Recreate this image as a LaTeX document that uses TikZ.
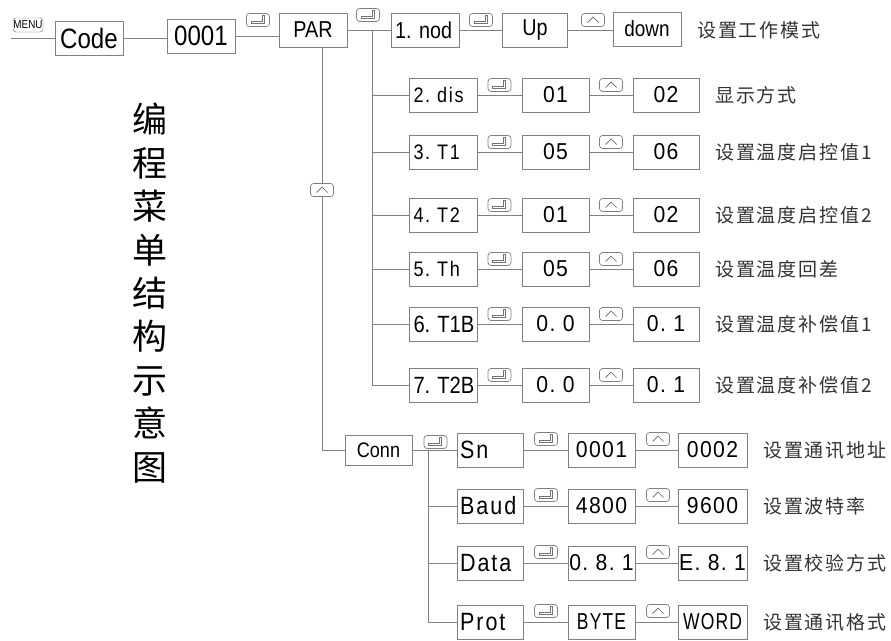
\documentclass[tikz,border=0pt]{standalone}
\usepackage{fontspec}
\setmainfont{Liberation Sans}[FakeStretch=0.86]
\newfontfamily\valfont{Liberation Sans}[FakeStretch=0.92, LetterSpace=6]
\newfontfamily\lblfont{Liberation Sans}[FakeStretch=0.86, LetterSpace=8]
\newfontfamily\narrowfont{Liberation Sans}[FakeStretch=0.76, LetterSpace=5]
\newfontfamily\cjk{Noto Sans CJK SC}
\newfontfamily\cjkdesc{Noto Sans CJK SC}[LetterSpace=10]
\frenchspacing
\tikzset{
  box/.style={draw=black!50, line width=0.9pt, minimum height=34pt, minimum width=68pt, inner sep=0pt},
  big/.style={box, font=\fontsize{28}{32}\selectfont},
  mid/.style={box, font=\fontsize{23}{27}\selectfont},
  lbl/.style={box, text width=60pt, align=left, font=\lblfont\fontsize{21}{25}\selectfont},
  val/.style={box, minimum width=67pt, font=\valfont\fontsize{23}{27}\selectfont},
  wire/.style={draw=black!50, line width=0.8pt},
  desc/.style={anchor=west, inner sep=0pt, text=black!80, font=\cjkdesc\fontsize{19}{22}\selectfont},
  keybtn/.style={draw=black!50, fill=white, line width=0.7pt, rounded corners=3pt, minimum width=23pt, minimum height=13pt, inner sep=0pt},
  enterkey/.style={keybtn, path picture={\draw[black!55, sharp corners, line width=0.5pt]
      ([shift={(-7pt,-3.5pt)}]path picture bounding box.center) -- ++(13pt,0) -- ++(0,8pt)
      -- ++(-2pt,0) -- ++(0,-6pt) -- ++(-11pt,0) -- cycle;}},
  upkey/.style={keybtn, path picture={\draw[black!60, sharp corners, line width=0.7pt]
      ([shift={(-5.5pt,-2.5pt)}]path picture bounding box.center) -- ++(5.5pt,5.5pt) -- ++(5.5pt,-5.5pt);}},
  menukey/.style={draw=black!60, rounded corners=3pt, minimum width=30pt, minimum height=14pt, inner sep=0pt, font=\fontsize{11.5}{12}\selectfont},
  title/.style={align=center, inner sep=0pt, font=\cjk\fontsize{35}{43.4}\selectfont}
}
\begin{document}
\begin{tikzpicture}[x=1pt,y=-1pt]
\useasboundingbox (0,0) rectangle (891,640);
\node[title] (title) at (150,293) {编\\程\\菜\\单\\结\\构\\示\\意\\图};
\node[menukey] (menu) at (28,25) {MENU};
\coordinate (start) at (11,38);
\node[big] (code) at (89,38) {Code};
\node[big] (pwd) at (201,36) {0001};
\node[mid] (par) at (313,30) {PAR};
\node[lbl, font=\normalfont\fontsize{23}{27}\selectfont] (nod) at (425,30) {\mbox{1. nod}};
\node[mid, minimum width=65pt] (up) at (535,30) {Up};
\node[mid, font=\fontsize{22}{26}\selectfont] (down) at (647,29) {down};
\node[desc] (d1) at (697,30) {设置工作模式};
\draw[wire] (start) -- (code);
\draw[wire] (code.east) -- (code.east -| pwd.west);
\draw[wire] (pwd.east) -- (pwd.east -| par.west);
\draw[wire] (par) -- (nod) -- (up) -- (down.west |- up);
\node[enterkey] (k1) at (258,20) {};
\node[enterkey] (k2) at (368,15) {};
\node[enterkey] (k3) at (481,20) {};
\node[upkey] (k4) at (593,20) {};
% PAR submenu
\coordinate (trunk) at (372,30);
\foreach \n/\y/\lb/\va/\vb/\ds in {
    2/95/2. dis/01/02/显示方式,
    3/152/3. T1/05/06/设置温度启控值1,
    4/215/4. T2/01/02/设置温度启控值2,
    5/269/5. Th/05/06/设置温度回差,
    6/324/{\normalfont\fontsize{23.5}{28}\selectfont 6. T1B}/0. 0/0. 1/设置温度补偿值1,
    7/385/{\normalfont\fontsize{23.5}{28}\selectfont 7. T2B}/0. 0/0. 1/设置温度补偿值2}{
  \node[lbl] (r\n) at (443.5,\y) {\mbox{\lb}};
  \node[val] (v\n) at (555.5,\y) {\va};
  \node[val, minimum width=66pt] (w\n) at (666,\y) {\vb};
  \node[desc] (t\n) at (715,\y) {\ds};
  \draw[wire] (trunk |- r\n) -- (r\n) -- (v\n) -- (w\n);
  \node[enterkey] (e\n) at (499.5,\y-10) {};
  \node[upkey] (u\n) at (611,\y-10) {};
}
\draw[wire] (trunk) -- (trunk |- r7);
% Conn submenu
\coordinate (cn) at (322,450);
\node[box, minimum height=30pt, minimum width=67pt, font=\fontsize{21}{25}\selectfont] (conn) at (378.5,450) {Conn};
\draw[wire] (par.south -| cn) -- (cn) -- (conn);
\node[upkey] (pu) at (322,190) {};
\node[enterkey] (ck) at (435.5,442) {};
\coordinate (trunk2) at (428,450);
\foreach \n/\y/\lb/\va/\vb/\ds in {
    sn/450/Sn/0001/0002/设置通讯地址,
    baud/506/Baud/4800/9600/设置波特率,
    data/563/Data/0. 8. 1/E. 8. 1/设置校验方式,
    prot/622/Prot/{\narrowfont BYTE}/{\narrowfont WORD}/设置通讯格式}{
  \node[box, minimum width=66pt, text width=60pt, align=left, font=\lblfont\fontsize{25}{29}\selectfont] (\n) at (490,\y) {\lb};
  \node[val] (\n1) at (601.5,\y) {\va};
  \node[val, minimum width=69pt] (\n2) at (712.5,\y) {\vb};
  \node[desc] (\n t) at (763,\y) {\ds};
  \draw[wire] (trunk2 |- \n) -- (\n) -- (\n1) -- (\n2);
  \node[enterkey] (\n e) at (546,\y-11) {};
  \node[upkey] (\n u) at (658,\y-11) {};
}
\draw[wire] (conn) -- (sn);
\draw[wire] (trunk2) -- (trunk2 |- prot);
\end{tikzpicture}
\end{document}
